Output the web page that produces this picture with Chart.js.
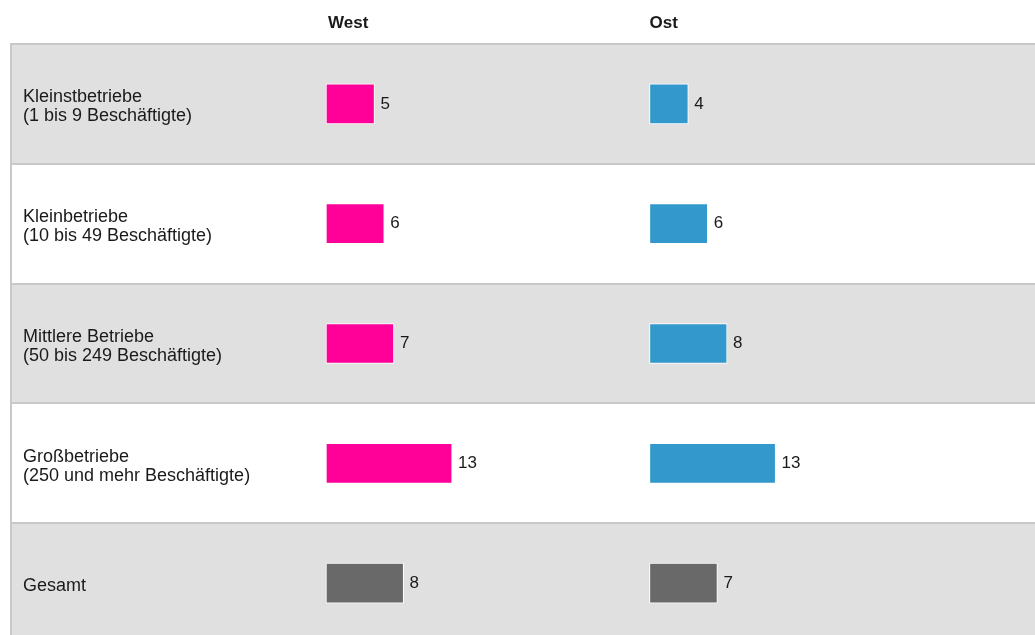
<!DOCTYPE html>
<html>
<head>
<meta charset="utf-8">
<script src="https://cdn.jsdelivr.net/npm/chart.js@4/dist/chart.umd.min.js"></script>
<style>
  html, body { margin: 0; padding: 0; background: #fff; }
  #wrap { width: 1035px; height: 635px; overflow: hidden; }
  canvas { display: block; }
</style>
</head>
<body>
<div id="wrap"><canvas id="chart" width="1035" height="643"></canvas></div>
<script>
(function(){
  const categories = [
    ["Kleinstbetriebe", "(1 bis 9 Beschäftigte)"],
    ["Kleinbetriebe", "(10 bis 49 Beschäftigte)"],
    ["Mittlere Betriebe", "(50 bis 249 Beschäftigte)"],
    ["Großbetriebe", "(250 und mehr Beschäftigte)"],
    ["Gesamt"]
  ];
  const seriesNames = ["West", "Ost"];
  const westValues = [5, 6, 7, 13, 8];
  const ostValues = [4, 6, 8, 13, 7];

  const PINK = "#ff0099";
  const BLUE = "#3399cc";
  const GREY = "#696969";
  const ROW_BG = "#e0e0e0";
  const LINE = "#c8c8c8";
  const TEXT = "#1a1a1a";
  const FONT = "Arial, 'Liberation Sans', sans-serif";

  // both value columns share one plot area; each axis puts its zero at its column
  const AREA_W = 1024;
  const PX_PER_UNIT = 9.7;
  function columnRange(zeroOffset) {
    const min = -zeroOffset / PX_PER_UNIT;
    return { min: min, max: min + AREA_W / PX_PER_UNIT };
  }
  const westRange = columnRange(315);
  const ostRange = columnRange(638.5);

  function colours(main) {
    return categories.map((c, i) => i === categories.length - 1 ? GREY : main);
  }

  const rowBands = {
    id: "rowBands",
    beforeDraw(chart) {
      const { ctx, chartArea, scales } = chart;
      const y = scales.y;
      const step = (chartArea.bottom - chartArea.top) / categories.length;
      ctx.save();
      ctx.fillStyle = ROW_BG;
      categories.forEach((c, i) => {
        if (i % 2 !== 0) return;
        const cy = y.getPixelForValue(i);
        ctx.fillRect(chartArea.left, cy - step / 2, chartArea.right - chartArea.left, step);
      });
      ctx.restore();
    }
  };

  const valueLabels = {
    id: "valueLabels",
    afterDatasetsDraw(chart) {
      const { ctx, scales } = chart;
      ctx.save();
      ctx.font = "17px " + FONT;
      ctx.fillStyle = TEXT;
      ctx.textBaseline = "middle";
      ctx.textAlign = "left";
      chart.data.datasets.forEach((ds, di) => {
        chart.getDatasetMeta(di).data.forEach((bar, i) => {
          ctx.fillText(String(ds.data[i]), bar.x + 6, bar.y);
        });
      });
      // column headers
      ctx.font = "bold 17px " + FONT;
      ctx.fillText(seriesNames[0], scales.xW.getPixelForValue(0) + 2, 23);
      ctx.fillText(seriesNames[1], scales.xO.getPixelForValue(0), 23);
      ctx.restore();
    }
  };

  new Chart(document.getElementById("chart"), {
    type: "bar",
    data: {
      labels: categories,
      datasets: [
        {
          label: seriesNames[0],
          data: westValues,
          xAxisID: "xW",
          backgroundColor: colours(PINK),
          borderColor: "#ffffff",
          borderWidth: 1,
          borderSkipped: false,
          grouped: false,
          barThickness: 40
        },
        {
          label: seriesNames[1],
          data: ostValues,
          xAxisID: "xO",
          backgroundColor: colours(BLUE),
          borderColor: "#ffffff",
          borderWidth: 1,
          borderSkipped: false,
          grouped: false,
          barThickness: 40
        }
      ]
    },
    options: {
      indexAxis: "y",
      responsive: false,
      animation: false,
      layout: { padding: { top: 44, left: 11, right: 0, bottom: 0 } },
      plugins: {
        legend: { display: false },
        tooltip: { enabled: false }
      },
      scales: {
        xW: { type: "linear", position: "bottom", display: false, min: westRange.min, max: westRange.max },
        xO: { type: "linear", position: "bottom", display: false, min: ostRange.min, max: ostRange.max },
        y: {
          type: "category",
          offset: true,
          afterFit(scale) {
            // labels sit inside the plot, so the axis takes no room
            scale.width = 0;
            scale.paddingTop = 0;
            scale.paddingBottom = 0;
          },
          grid: { offset: true, color: LINE, lineWidth: 2, drawTicks: false },
          border: { display: true, color: LINE, width: 2 },
          ticks: {
            mirror: true,
            padding: 12,
            labelOffset: 3,
            color: TEXT,
            font: { family: FONT, size: 18, lineHeight: 1.07 }
          }
        }
      }
    },
    plugins: [rowBands, valueLabels]
  });
})();
</script>
</body>
</html>
